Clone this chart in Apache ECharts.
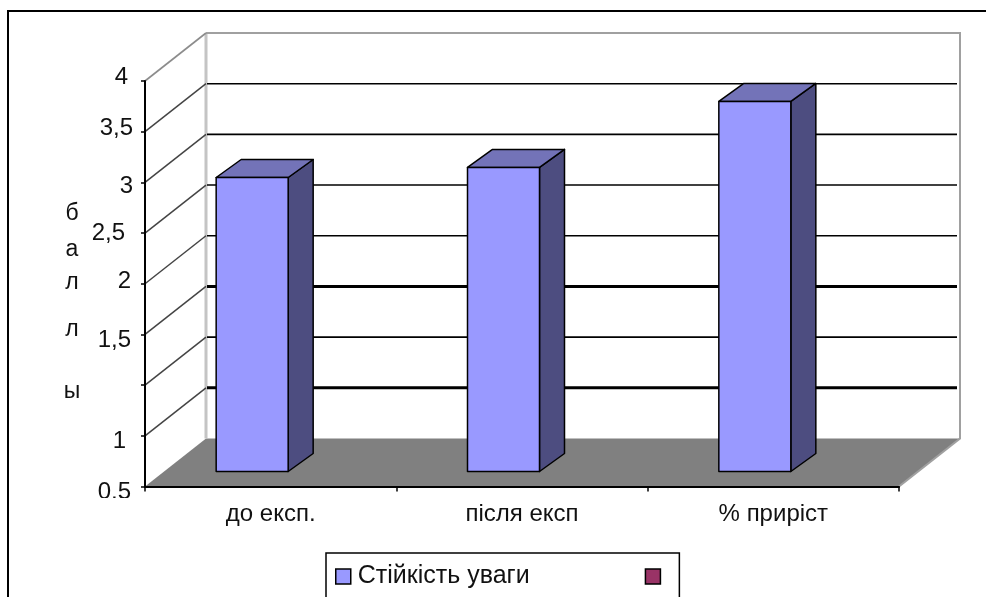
<!DOCTYPE html>
<html>
<head>
<meta charset="utf-8">
<style>html,body{margin:0;padding:0;background:#fff}#chart{width:987px;height:597px}</style>
<script src="https://cdn.jsdelivr.net/npm/echarts@6/dist/echarts.min.js"></script>
</head>
<body>
<div id="chart"></div>
<script>
// Chart values
const categories = ['до експ.', 'після експ', '% приріст'];
const seriesName = 'Стійкість уваги';
const seriesValues = [2.9, 3.0, 3.65];
const emptySeriesName = ' ';
const tickLabels = ['0,5', '1', '', '1,5', '2', '2,5', '3', '3,5', '4'];
const axisLetters = ['б', 'а', 'л', 'л', 'ы'];

// Label nudges for each tick, [right padding, vertical shift]
const tickNudge = [[2, 6], [7, 6], [0, 0], [2, 6], [2, -2], [8, 0], [0, 4], [0, -3], [5, -3.5]];
const letterY = [214, 250, 283, 330, 392];
const heavyTicks = [1, 3];

// Depth of the box the chart sits in, and of the bars within it
const DEPTH_X = 61, DEPTH_Y = -48;
const BAR_LEFT = -54.5, BAR_WIDTH = 72, BAR_LIFT = 15, BAR_DX = 25, BAR_DY = -18;

// The axis has one unlabelled step between 1 and 1,5
function axisPos(v) {
  const steps = (v - 0.5) / 0.5;
  return v <= 1 ? steps : steps + 1;
}

const FONT = '"Liberation Sans", Arial, sans-serif';

const rich = {};
tickNudge.forEach(function (n, i) {
  const dy = n[1];
  rich['t' + i] = {
    fontFamily: FONT, fontSize: 24, color: '#111',
    padding: [dy > 0 ? dy * 2 : 0, n[0], dy < 0 ? -dy * 2 : 0, 0]
  };
});

function renderBox(params, api) {
  const cs = params.coordSys;
  const left = cs.x, right = cs.x + cs.width;
  const top = cs.y, bottom = cs.y + cs.height;
  return {
    type: 'group',
    children: [
      { type: 'polygon', shape: { points: [[left, bottom], [left + DEPTH_X, bottom + DEPTH_Y], [right + DEPTH_X, bottom + DEPTH_Y], [right, bottom]] },
        style: { fill: '#808080', stroke: null } },
      { type: 'line', shape: { x1: left + DEPTH_X, y1: bottom + DEPTH_Y, x2: left + DEPTH_X, y2: top + DEPTH_Y },
        style: { stroke: '#c4c4c4', lineWidth: 3 } },
      { type: 'polyline', shape: { points: [[left + DEPTH_X, top + DEPTH_Y], [right + DEPTH_X, top + DEPTH_Y], [right + DEPTH_X, bottom + DEPTH_Y], [right, bottom]] },
        style: { fill: null, stroke: '#a0a0a0', lineWidth: 2 } },
      { type: 'line', shape: { x1: left, y1: top, x2: left + DEPTH_X, y2: top + DEPTH_Y },
        style: { stroke: '#8c8c8c', lineWidth: 1.6 } }
    ]
  };
}

function renderTick(params, api) {
  const cs = params.coordSys;
  const i = api.value(1);
  const y = api.coord([0, i])[1];
  const x0 = cs.x, x1 = cs.x + cs.width;
  const heavy = heavyTicks.indexOf(i) >= 0;
  return {
    type: 'group',
    children: [
      { type: 'line', shape: { x1: x0, y1: y, x2: x0 + DEPTH_X, y2: y + DEPTH_Y },
        style: { stroke: '#444', lineWidth: 1.5 } },
      { type: 'line', shape: { x1: x0 + DEPTH_X + 1, y1: y + DEPTH_Y, x2: x1 + DEPTH_X - 3, y2: y + DEPTH_Y },
        style: { stroke: '#000', lineWidth: heavy ? 3 : 1.6 } }
    ]
  };
}

function renderBar(params, api) {
  const cx = api.coord([api.value(0), 0])[0];
  const base = api.coord([0, 0])[1] - BAR_LIFT;
  const top = api.coord([0, axisPos(api.value(1))])[1] - BAR_LIFT;
  const l = cx + BAR_LEFT, r = l + BAR_WIDTH;
  const edge = { stroke: '#000', lineWidth: 1.5, lineJoin: 'round' };
  return {
    type: 'group',
    children: [
      { type: 'polygon', shape: { points: [[r, top], [r + BAR_DX, top + BAR_DY], [r + BAR_DX, base + BAR_DY], [r, base]] },
        style: Object.assign({ fill: '#4d4d80' }, edge) },
      { type: 'polygon', shape: { points: [[l, top], [l + BAR_DX, top + BAR_DY], [r + BAR_DX, top + BAR_DY], [r, top]] },
        style: Object.assign({ fill: '#7373b8' }, edge) },
      { type: 'rect', shape: { x: l, y: top, width: BAR_WIDTH, height: base - top },
        style: Object.assign({ fill: '#9999ff' }, edge) }
    ]
  };
}

const chart = echarts.init(document.getElementById('chart'), null, { renderer: 'canvas' });

chart.setOption({
  animation: false,
  backgroundColor: '#fff',
  grid: { left: 145, top: 81, width: 754, height: 405.5, containLabel: false },
  xAxis: {
    type: 'category', data: categories, z: 5,
    axisLine: { lineStyle: { color: '#000', width: 2 } },
    axisTick: { show: true, length: 5, alignWithLabel: false, lineStyle: { color: '#000', width: 1.5 } },
    axisLabel: { color: '#111', fontFamily: FONT, fontSize: 24, margin: 16 },
    splitLine: { show: false }
  },
  yAxis: {
    type: 'value', min: 0, max: 8, interval: 1, z: 5,
    axisLine: { show: true, lineStyle: { color: '#000', width: 2 } },
    axisTick: { show: true, length: 4, lineStyle: { color: '#000', width: 1.5 } },
    axisLabel: {
      margin: 12, color: '#111', fontFamily: FONT, fontSize: 24,
      formatter: function (value) {
        const i = Math.round(value);
        return tickLabels[i] ? '{t' + i + '|' + tickLabels[i] + '}' : '';
      },
      rich: rich
    },
    splitLine: { show: false }
  },
  legend: {
    left: 326, top: 553, orient: 'horizontal', selectedMode: false,
    padding: [11, 5, 30, 9],
    borderColor: '#000', borderWidth: 1.5, backgroundColor: '#fff',
    itemWidth: 15, itemHeight: 15, itemGap: 115,
    textStyle: { color: '#111', fontFamily: FONT, fontSize: 25, padding: [0, 0, 0, 2] },
    data: [
      { name: seriesName, icon: 'rect', itemStyle: { color: '#9999ff', borderColor: '#000', borderWidth: 1.5 } },
      { name: emptySeriesName, icon: 'rect', itemStyle: { color: '#993366', borderColor: '#000', borderWidth: 1.5 } }
    ]
  },
  graphic: [
    // Chart frame: left and top edges
    { type: 'polyline', silent: true, z: 10, shape: { points: [[8, 597], [8, 11], [986, 11]] },
      style: { fill: null, stroke: '#000', lineWidth: 2 } },
    // Lowest tick label is cut off along its bottom edge
    { type: 'rect', silent: true, z: 20, shape: { x: 90, y: 498, width: 50, height: 12 }, style: { fill: '#fff' } }
  ].concat(axisLetters.map(function (ch, i) {
    return { type: 'text', silent: true, z: 10, x: 72, y: letterY[i],
      style: { text: ch, fill: '#111', font: '23px ' + FONT, align: 'center', verticalAlign: 'middle' } };
  })),
  series: [
    { type: 'custom', name: 'box', z: 1, silent: true, clip: false, renderItem: renderBox, data: [[0, 0]] },
    { type: 'custom', name: 'ticks', z: 2, silent: true, clip: false, renderItem: renderTick,
      data: [1, 2, 3, 4, 5, 6, 7].map(function (i) { return [0, i]; }) },
    { type: 'custom', name: seriesName, z: 3, clip: false, renderItem: renderBar,
      itemStyle: { color: '#9999ff' },
      encode: { x: 0, y: 1 },
      data: seriesValues.map(function (v, i) { return [i, v]; }) },
    { type: 'custom', name: emptySeriesName, z: 3, renderItem: renderBar,
      itemStyle: { color: '#993366' }, data: [] }
  ]
});
</script>
</body>
</html>
